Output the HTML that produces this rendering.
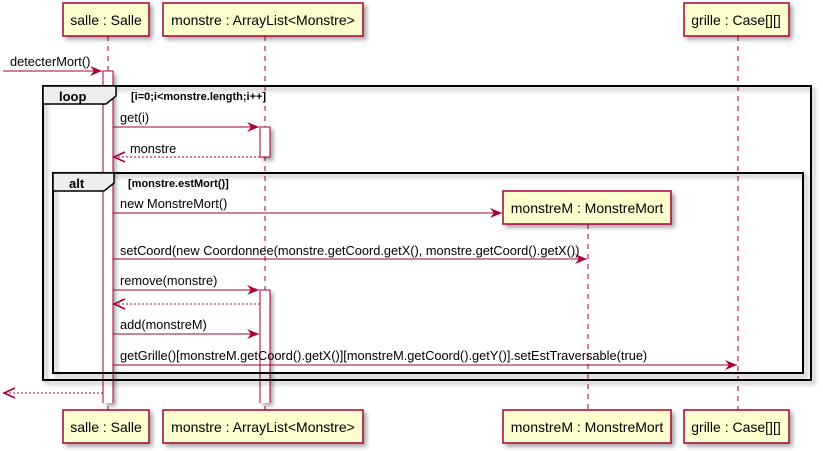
<!DOCTYPE html>
<html><head><meta charset="utf-8"><style>
html,body{margin:0;padding:0;background:#fff;}
svg{display:block;font-family:"Liberation Sans",sans-serif;}
</style></head><body>
<svg width="823" height="451" viewBox="0 0 823 451" xmlns="http://www.w3.org/2000/svg">
<defs>
<filter id="sh" x="-10%" y="-10%" width="130%" height="140%"><feDropShadow dx="3" dy="3" stdDeviation="2" flood-color="#000" flood-opacity="0.35"/></filter>
<marker id="ah" markerWidth="14" markerHeight="10" refX="12" refY="5" orient="auto" markerUnits="userSpaceOnUse"><path d="M0,0 L12,5 L0,10 L4,5 Z" fill="#A80036"/></marker>
<marker id="ao" markerWidth="14" markerHeight="12" refX="12" refY="6" orient="auto" markerUnits="userSpaceOnUse"><path d="M1,1 L12,6 L1,11" fill="none" stroke="#A80036" stroke-width="1.6"/></marker>
</defs>
<g stroke="#A80036" stroke-dasharray="5,5" stroke-width="1">
<line x1="108" y1="36" x2="108" y2="410"/>
<line x1="265" y1="36" x2="265" y2="410"/>
<line x1="588" y1="224" x2="588" y2="410"/>
<line x1="738" y1="36" x2="738" y2="410"/>
</g>
<g fill="#FEFECE" stroke="#A80036" stroke-width="1.5" filter="url(#sh)">
<rect x="63" y="3" width="86" height="33"/>
<rect x="163" y="3" width="200" height="33"/>
<rect x="684" y="3" width="105" height="33"/>
<rect x="63" y="410" width="86" height="33"/>
<rect x="163" y="410" width="200" height="33"/>
<rect x="503" y="410" width="168" height="33"/>
<rect x="684" y="410" width="105" height="33"/>
<rect x="503" y="191" width="168" height="33"/>
</g>
<g font-size="14" fill="#000" text-anchor="middle">
<text x="106" y="25">salle : Salle</text>
<text x="263" y="25">monstre : ArrayList&lt;Monstre&gt;</text>
<text x="736" y="25">grille : Case[][]</text>
<text x="106" y="432">salle : Salle</text>
<text x="263" y="432">monstre : ArrayList&lt;Monstre&gt;</text>
<text x="587" y="432">monstreM : MonstreMort</text>
<text x="736" y="432">grille : Case[][]</text>
<text x="587" y="213">monstreM : MonstreMort</text>
</g>
<g filter="url(#sh)">
<rect x="103" y="71" width="10" height="332" fill="#fff"/>
<rect x="260" y="127" width="10" height="30" fill="#fff" stroke="#A80036"/>
<rect x="260" y="290" width="10" height="113" fill="#fff"/>
</g>
<g stroke="#A80036" stroke-width="1" fill="none">
<path d="M103,403 L103,71 L113,71 L113,403"/>
<path d="M260,403 L260,290 L270,290 L270,403"/>
</g>
<g fill="none" stroke="#000" stroke-width="2" filter="url(#sh)">
<rect x="43" y="86" width="768" height="294"/>
<rect x="53" y="173" width="750" height="200"/>
</g>
<path d="M43,86 L116,86 L116,96 L106,104 L43,104 Z" fill="#EEEEEE" stroke="#000" stroke-width="1.5"/>
<path d="M53,173 L114,173 L114,183 L104,191 L53,191 Z" fill="#EEEEEE" stroke="#000" stroke-width="1.5"/>
<g font-size="13" font-weight="bold" fill="#000">
<text x="59" y="101">loop</text>
<text x="69" y="188">alt</text>
</g>
<g font-size="11" font-weight="bold" fill="#000">
<text x="131" y="100">[i=0;i&lt;monstre.length;i++]</text>
<text x="128" y="187">[monstre.estMort()]</text>
</g>
<g stroke="#A80036" stroke-width="1" fill="none">
<line x1="3" y1="71" x2="102" y2="71" marker-end="url(#ah)"/>
<line x1="113" y1="127" x2="259" y2="127" marker-end="url(#ah)"/>
<line x1="260" y1="157" x2="114" y2="157" stroke-dasharray="2,2" marker-end="url(#ao)"/>
<line x1="113" y1="213" x2="502" y2="213" marker-end="url(#ah)"/>
<line x1="113" y1="259" x2="587" y2="259" marker-end="url(#ah)"/>
<line x1="113" y1="290" x2="259" y2="290" marker-end="url(#ah)"/>
<line x1="260" y1="304" x2="114" y2="304" stroke-dasharray="2,2" marker-end="url(#ao)"/>
<line x1="113" y1="334" x2="259" y2="334" marker-end="url(#ah)"/>
<line x1="113" y1="365" x2="737" y2="365" marker-end="url(#ah)"/>
<line x1="103" y1="393" x2="4" y2="393" stroke-dasharray="2,2" marker-end="url(#ao)"/>
</g>
<g font-size="12.8" fill="#000">
<text x="10" y="66">detecterMort()</text>
<text x="120" y="122">get(i)</text>
<text x="130" y="153">monstre</text>
<text x="120" y="208">new MonstreMort()</text>
<text x="120" y="255">setCoord(new Coordonnee(monstre.getCoord.getX(), monstre.getCoord().getX())</text>
<text x="120" y="285">remove(monstre)</text>
<text x="120" y="329">add(monstreM)</text>
<text x="120" y="360">getGrille()[monstreM.getCoord().getX()][monstreM.getCoord().getY()].setEstTraversable(true)</text>
</g>
</svg>
</body></html>
